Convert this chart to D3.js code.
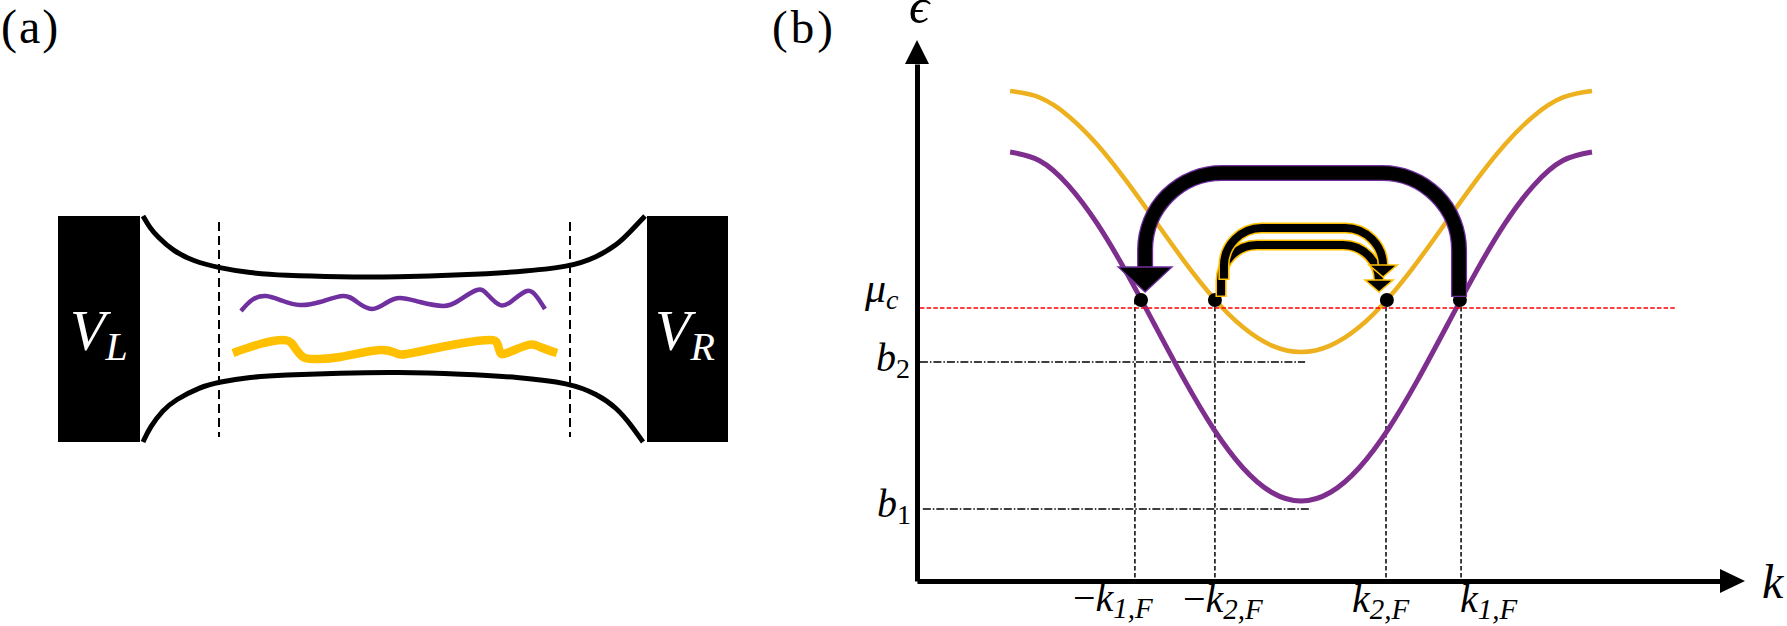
<!DOCTYPE html>
<html>
<head>
<meta charset="utf-8">
<script src="https://cdn.jsdelivr.net/npm/d3@7"></script>
<style>
	html, body { margin: 0; padding: 0; background: #fff; }
	svg { display: block; }
	text { font-family: "Liberation Serif", serif; }
</style>
</head>
<body>
<svg id="chart" width="1787" height="626"></svg>
<script>

// (data_a) Panel a: wire edges and the two wavy modes
var wireTopU = [85, 92, 99, 115, 135, 161, 192, 225, 282, 339, 405, 459, 512, 539, 559, 572, 587];
var wireTopV = [0, 12, 20, 35, 45, 52, 57, 59.5, 61, 61, 59, 56, 51, 41, 29, 16, 0];
var wireBotU = [85, 92, 105, 117, 142, 161, 192, 225, 282, 339, 405, 459, 512, 539, 559, 573, 585];
var wireBotV = [226, 211, 194, 184, 171, 166, 161, 159, 157, 156, 158, 161, 167, 178, 192, 209, 226];
var modePurpleU = [183, 194, 208, 225, 242, 262, 285, 299, 314, 328, 342, 362, 385, 400, 419, 430, 442, 454, 469, 479, 487];
var modePurpleV = [95, 84, 80, 85, 89, 86, 80, 86, 93, 87, 82, 86, 90, 85, 74, 79, 89, 85, 75, 81, 93];
var modeGoldU = [175, 202, 225, 235, 245, 259, 282, 322, 340, 359, 405, 432, 439, 442, 449, 470, 482, 499];
var modeGoldV = [137, 128, 124, 129, 141, 143, 141, 134, 138, 136, 127, 124, 127, 136, 137, 129, 131, 137];
var contactDashU = [161, 512];

// (data_b) Panel b: the two bands, sampled every 0.1 in k
var bandK = [-1, -0.9, -0.8, -0.7, -0.6, -0.5, -0.4, -0.3, -0.2, -0.1, 0, 0.1, 0.2, 0.3, 0.4, 0.5, 0.6, 0.7, 0.8, 0.9, 1];
var bandPurple = [4.29, 4.205, 3.957, 3.571, 3.084, 2.545, 2.006, 1.519, 1.133, 0.885, 0.80, 0.885, 1.133, 1.519, 2.006, 2.545, 3.084, 3.571, 3.957, 4.205, 4.29];
var bandGold = [4.90, 4.836, 4.651, 4.362, 3.998, 3.595, 3.192, 2.828, 2.539, 2.354, 2.29, 2.354, 2.539, 2.828, 3.192, 3.595, 3.998, 4.362, 4.651, 4.836, 4.90];

// (data_levels) Levels and Fermi points
var muC = 2.73;
var b2 = 2.19;
var b1 = 0.72;
var b2EndK = 0.014;
var b1EndK = 0.034;
var kFermiDash = [-0.571, -0.296, 0.292, 0.550];
var kFermiDot = [-0.550, -0.296, 0.295, 0.546];
var kFermiE = 2.81;
var kLabels = ['\u2212k', '\u2212k', 'k', 'k'];
var kSubs = ['1,F', '2,F', '2,F', '1,F'];

// (data_arrows) Scattering arrows: startK, endK, startE, topE, endE
var arrowBig = [0.543, -0.536, 2.84, 4.08, 3.14];
var arrowUpper = [-0.265, 0.282, 3.01, 3.53, 3.16];
var arrowLower = [-0.275, 0.268, 2.84, 3.36, 3.01];

var purple = '#7E2F8E';
var gold = '#EDB120';
var modePurple = '#7030A0';
var modeGold = '#FFC000';

var svg = d3.select('#chart');

// (scales) Panel a and panel b scales
var xA = d3.scaleLinear().domain([0, 670]).range([58, 728]);
var yA = d3.scaleLinear().domain([0, 226]).range([216, 442]);
var x = d3.scaleLinear().domain([-1.32, 1.44]).range([917, 1720]);
var y = d3.scaleLinear().domain([0, 5.17]).range([581, 64]);

// (label) Math label with a subscript
var mathLabel = function(g, px, py, main, sub, size, subSize, color) {
	var t = g.append('text')
		.attr('x', px)
		.attr('y', py)
		.attr('fill', color || '#000')
		.attr('font-size', size);
	if (main.charAt(0) === '\u2212') {
		t.append('tspan').text('\u2212');
		main = main.slice(1);
	}
	t.append('tspan').attr('font-style', 'italic').text(main);
	if (sub) {
		t.append('tspan')
			.attr('font-size', subSize)
			.attr('font-style', sub === '1' || sub === '2' ? 'normal' : 'italic')
			.attr('dy', size * 0.17)
			.text(sub);
	}
	return t;
};

// (panel_a) Panel a
var a = svg.append('g');
a.selectAll('rect.contact').data([[0, 82], [589, 670]]).enter().append('rect')
	.attr('class', 'contact')
	.attr('x', function(d) { return xA(d[0]); })
	.attr('y', yA(0))
	.attr('width', function(d) { return xA(d[1]) - xA(d[0]); })
	.attr('height', yA(226) - yA(0))
	.attr('fill', '#000');

var lineA = d3.line()
	.x(function(d) { return xA(d[0]); })
	.y(function(d) { return yA(d[1]); })
	.curve(d3.curveNatural);

var lineWire = d3.line()
	.x(function(d) { return xA(d[0]); })
	.y(function(d) { return yA(d[1]); })
	.curve(d3.curveBasis);

var drawA = function(line, us, vs, color, width) {
	a.append('path')
		.attr('d', line(d3.zip(us, vs)))
		.attr('fill', 'none')
		.attr('stroke', color)
		.attr('stroke-width', width);
};
drawA(lineWire, wireTopU, wireTopV, '#000', 5);
drawA(lineWire, wireBotU, wireBotV, '#000', 5);
drawA(lineA, modePurpleU, modePurpleV, modePurple, 4.5);
drawA(lineA, modeGoldU, modeGoldV, modeGold, 8.5);

a.selectAll('line.cut').data(contactDashU).enter().append('line')
	.attr('class', 'cut')
	.attr('x1', function(d) { return xA(d); })
	.attr('x2', function(d) { return xA(d); })
	.attr('y1', yA(6))
	.attr('y2', yA(221))
	.attr('stroke', '#000')
	.attr('stroke-width', 2)
	.attr('stroke-dasharray', '9,5');

mathLabel(a, 70, 350, 'V', 'L', 58, 40, '#fff');
mathLabel(a, 655, 350, 'V', 'R', 58, 40, '#fff');

// (panel_titles) Panel letters
svg.append('text').attr('x', 1).attr('y', 43).attr('font-size', 48).attr('letter-spacing', 2).text('(a)');
svg.append('text').attr('x', 772).attr('y', 43).attr('font-size', 47).attr('letter-spacing', 3).text('(b)');

// (panel_b) Panel b guides
var b = svg.append('g');

b.selectAll('line.kf').data(kFermiDash).enter().append('line')
	.attr('class', 'kf')
	.attr('x1', function(d) { return x(d); })
	.attr('x2', function(d) { return x(d); })
	.attr('y1', y(kFermiE))
	.attr('y2', y(0))
	.attr('stroke', '#000')
	.attr('stroke-width', 1.5)
	.attr('stroke-dasharray', '4.5,2.5');

b.append('line')
	.attr('x1', x(-1.31)).attr('x2', x(b2EndK))
	.attr('y1', y(b2)).attr('y2', y(b2))
	.attr('stroke', '#000').attr('stroke-width', 1.5)
	.attr('stroke-dasharray', '8,2,1.5,2');
b.append('line')
	.attr('x1', x(-1.30)).attr('x2', x(b1EndK))
	.attr('y1', y(b1)).attr('y2', y(b1))
	.attr('stroke', '#000').attr('stroke-width', 1.5)
	.attr('stroke-dasharray', '8,2,1.5,2');

// (bands) Energy bands
var bandLine = d3.line()
	.x(function(d) { return x(d[0]); })
	.y(function(d) { return y(d[1]); })
	.curve(d3.curveNatural);

b.append('path')
	.attr('d', bandLine(d3.zip(bandK, bandGold)))
	.attr('fill', 'none').attr('stroke', gold).attr('stroke-width', 4.5);
b.append('path')
	.attr('d', bandLine(d3.zip(bandK, bandPurple)))
	.attr('fill', 'none').attr('stroke', purple).attr('stroke-width', 5);

b.append('line')
	.attr('x1', x(-1.31)).attr('x2', x(1.285))
	.attr('y1', y(muC)).attr('y2', y(muC))
	.attr('stroke', '#f00').attr('stroke-width', 1.5)
	.attr('stroke-dasharray', '4.5,2.2');

b.selectAll('circle.fermi').data(kFermiDot).enter().append('circle')
	.attr('class', 'fermi')
	.attr('cx', function(d) { return x(d); })
	.attr('cy', y(kFermiE))
	.attr('r', 7)
	.attr('fill', '#000');

// (axes) Axes without ticks, arrowheads on the ends
var axisX = d3.axisBottom(x).tickValues([]).tickSize(0);
var axisY = d3.axisLeft(y).tickValues([]).tickSize(0);
var gx = b.append('g').attr('transform', 'translate(0,' + y(0) + ')').call(axisX);
var gy = b.append('g').attr('transform', 'translate(' + x.range()[0] + ',0)').call(axisY);
gx.select('.domain').attr('stroke', '#000').attr('stroke-width', 5);
gy.select('.domain').attr('stroke', '#000').attr('stroke-width', 5);

b.append('path')
	.attr('d', 'M' + x.range()[1] + ',' + (y(0) - 12) + 'L' + (x.range()[1] + 25) + ',' + y(0) + 'L' + x.range()[1] + ',' + (y(0) + 12) + 'Z')
	.attr('fill', '#000');
b.append('path')
	.attr('d', 'M' + (x.range()[0] - 12) + ',' + y.range()[1] + 'L' + x.range()[0] + ',' + (y.range()[1] - 24) + 'L' + (x.range()[0] + 12) + ',' + y.range()[1] + 'Z')
	.attr('fill', '#000');

// (arrow) Rounded arrow: an outline stroke under a black stroke, then its head
var drawArrow = function(spec, radius, inner, outline, color, headHalf, headLen) {
	var x0 = x(spec[0]);
	var x1 = x(spec[1]);
	var y0 = y(spec[2]);
	var yTop = y(spec[3]);
	var y1 = y(spec[4]);

	var route = function(startY) {
		var p = d3.path();
		p.moveTo(x0, startY);
		p.lineTo(x0, yTop + radius);
		p.arcTo(x0, yTop, x0 + (x1 > x0 ? radius : -radius), yTop, radius);
		p.lineTo(x1 + (x1 > x0 ? -radius : radius), yTop);
		p.arcTo(x1, yTop, x1, yTop + radius, radius);
		p.lineTo(x1, y1);
		return p.toString();
	};

	b.append('path')
		.attr('d', route(y0))
		.attr('fill', 'none').attr('stroke', color).attr('stroke-width', inner + 2 * outline);
	b.append('path')
		.attr('d', route(y0 - outline))
		.attr('fill', 'none').attr('stroke', '#000').attr('stroke-width', inner);
	b.append('path')
		.attr('d', 'M' + (x1 - headHalf) + ',' + y1 + 'L' + (x1 + headHalf) + ',' + y1 + 'L' + x1 + ',' + (y1 + headLen) + 'Z')
		.attr('fill', '#000').attr('stroke', color).attr('stroke-width', outline);
};
drawArrow(arrowLower, 36, 8, 1.6, modeGold, 14, 12);
drawArrow(arrowUpper, 38, 8, 1.6, modeGold, 14, 12);
drawArrow(arrowBig, 77, 13.5, 1.3, modePurple, 27, 25);

// (labels) Axis and level labels
mathLabel(b, 909, 23, '\u03F5', null, 50, 0);
mathLabel(b, 1762, 598, 'k', null, 48, 0);
mathLabel(b, 865, 302, '\u03BC', 'c', 42, 28);
mathLabel(b, 876, 371, 'b', '2', 40, 28);
mathLabel(b, 877, 517, 'b', '1', 40, 28);

var kLabelDx = [-62, -32, -34, -1];
var kLabelY = [611, 612, 612, 612];
kLabels.forEach(function(d, i) {
	mathLabel(b, x(kFermiDash[i]) + kLabelDx[i], kLabelY[i], d, kSubs[i], 40, 29);
});

</script>
</body>
</html>
